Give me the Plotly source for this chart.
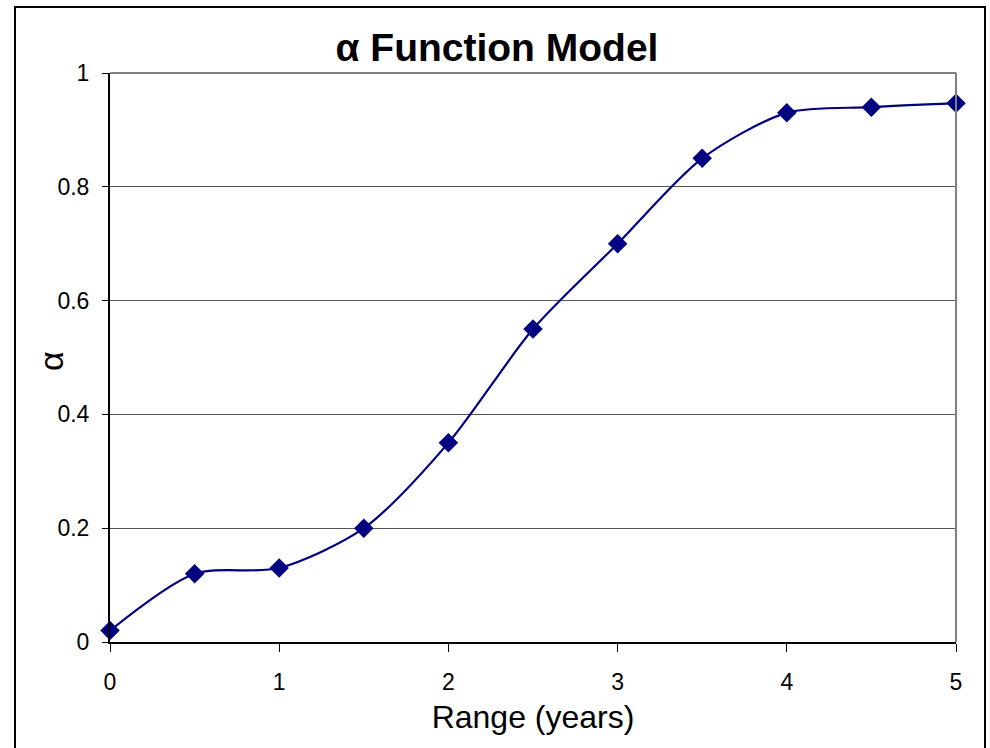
import plotly.graph_objects as go

# Data
range_years = [0, 0.5, 1, 1.5, 2, 2.5, 3, 3.5, 4, 4.5, 5]
alpha_vals = [0.02, 0.12, 0.13, 0.20, 0.35, 0.55, 0.70, 0.85, 0.93, 0.94, 0.947]
x_ticks = [0, 1, 2, 3, 4, 5]
y_ticks = [0, 0.2, 0.4, 0.6, 0.8, 1]
y_tick_text = ["0", "0.2", "0.4", "0.6", "0.8", "1"]

NAVY = "#000080"
FONT = "Liberation Sans, Arial, sans-serif"

fig = go.Figure()
fig.add_trace(go.Scatter(
    x=range_years, y=alpha_vals, mode="lines+markers",
    line=dict(color=NAVY, width=2.2, shape="spline", smoothing=0.8),
    marker=dict(symbol="diamond", size=15, color=NAVY),
    showlegend=False, cliponaxis=False,
))

fig.update_layout(
    width=990, height=748,
    margin=dict(l=110, r=34, t=73, b=106),
    paper_bgcolor="white", plot_bgcolor="white",
    font=dict(family=FONT, color="black"),
    title=dict(text="<b>α Function Model</b>", x=0.502, xanchor="center",
               y=1 - 47 / 748, yanchor="middle",
               font=dict(family=FONT, size=39, color="black")),
)

fig.update_xaxes(
    range=[0, 5], tickvals=x_ticks, ticktext=[str(v) for v in x_ticks],
    showgrid=False, zeroline=False,
    showline=True, linecolor="black", linewidth=2,
    ticks="outside", ticklen=8, tickwidth=1, tickcolor="black",
    tickfont=dict(family=FONT, size=23), ticklabelstandoff=10,
    title=dict(text="Range (years)", font=dict(family=FONT, size=32), standoff=12),
)
fig.update_yaxes(
    range=[0, 1], tickvals=y_ticks, ticktext=y_tick_text,
    showgrid=True, gridcolor="#555555", gridwidth=1, zeroline=False,
    showline=True, linecolor="black", linewidth=2,
    ticks="outside", ticklen=6, tickwidth=1, tickcolor="black",
    tickfont=dict(family=FONT, size=23), ticklabelstandoff=8,
)

pw, ph = 990 - 110 - 34, 748 - 73 - 106

# y axis title
fig.add_annotation(text="α", xref="paper", yref="paper",
                   x=(51 - 110) / pw, y=(642 - 361) / ph,
                   xanchor="center", yanchor="middle", textangle=-90,
                   showarrow=False, font=dict(family=FONT, size=34, color="black"))

# gray top and right frame of the plot area
fig.add_shape(type="line", xref="paper", yref="paper", x0=0, x1=1, y0=1, y1=1,
              line=dict(color="#808080", width=2))
fig.add_shape(type="line", xref="paper", yref="paper", x0=1, x1=1, y0=0, y1=1,
              line=dict(color="#808080", width=2))

# outer chart border
fig.add_shape(type="rect", xref="paper", yref="paper",
              x0=(15 - 110) / pw, x1=(985 - 110) / pw,
              y0=(642 - 770) / ph, y1=(642 - 7) / ph,
              line=dict(color="black", width=2), layer="below")

fig.write_html("out.html")
